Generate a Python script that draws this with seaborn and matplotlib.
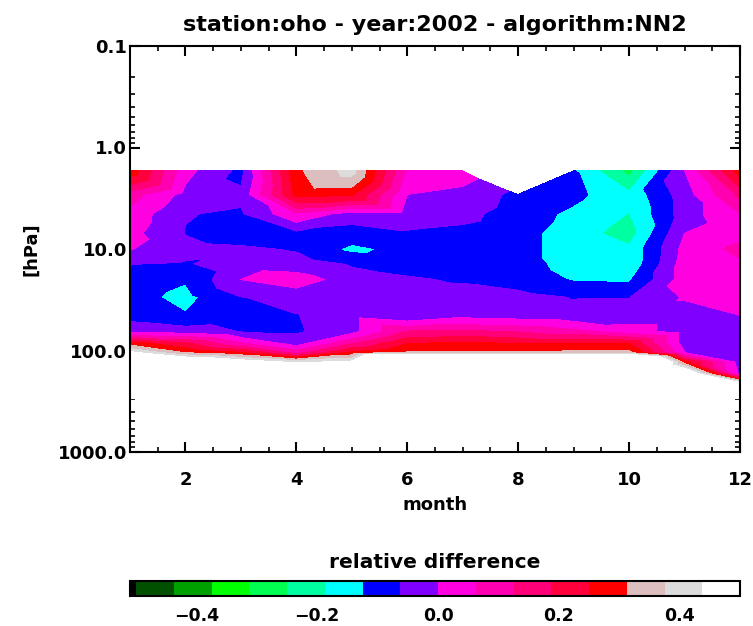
import numpy as np
import matplotlib
matplotlib.use("Agg")
import matplotlib.pyplot as plt
import matplotlib.tri as mtri
from matplotlib.colors import ListedColormap, BoundaryNorm
from matplotlib.cm import ScalarMappable
from matplotlib.ticker import FixedLocator, MultipleLocator, LogLocator, NullFormatter, NullLocator
import seaborn as sns

# ---------------- data ----------------
months = [1, 2, 3, 4, 5, 6, 7, 8, 9, 10, 11, 12]
pressure = [1.7, 2.9, 4.5, 7, 10, 14, 20, 30, 45, 65, 85, 105, 130, 170, 220, 300]  # hPa
nan = float("nan")

# relative difference per month, listed from top (1.7 hPa) to bottom (300 hPa)
jan = [0.29, 0.09, 0.04, 0.02, 0.003, -0.06, -0.09, -0.10, -0.09, -0.01, 0.28, 0.46, 1.0, 1.0, 1.0, 1.0]
feb = [0.02, -0.02, -0.06, -0.065, -0.04, -0.07, -0.12, -0.145, -0.12, -0.03, 0.20, 0.31, 0.6, 1.0, 1.0, 1.0]
mar = [-0.08, -0.05, -0.07, -0.10, -0.05, -0.02, 0.0, -0.065, -0.10, -0.065, 0.07, 0.26, 0.5, 1.0, 1.0, 1.0]
apr = [0.30, 0.27, 0.05, -0.08, -0.07, -0.03, 0.03, -0.04, -0.065, -0.07, -0.03, 0.10, 0.42, 1.0, 1.0, 1.0]
may = [0.40, 0.26, -0.03, -0.095, -0.14, -0.07, -0.03, -0.03, -0.02, -0.02, 0.12, 0.27, 0.46, 1.0, 1.0, 1.0]
jun = [0.05, 0.0, -0.03, -0.07, -0.107, -0.085, -0.055, -0.03, -0.06, 0.13, 0.25, 0.32, 1.0, 1.0, 1.0, 1.0]
jul = [0.03, -0.02, -0.045, -0.08, -0.10, -0.10, -0.07, -0.03, -0.02, 0.14, 0.26, 0.32, 1.0, 1.0, 1.0, 1.0]
aug = [nan, -0.08, -0.09, -0.10, -0.10, -0.10, -0.09, -0.04, -0.03, 0.12, 0.25, 0.32, 1.0, 1.0, 1.0, 1.0]
sep = [-0.12, -0.11, -0.14, -0.16, -0.16, -0.15, -0.13, -0.065, -0.04, 0.08, 0.25, 0.33, 1.0, 1.0, 1.0, 1.0]
octo = [-0.27, -0.17, -0.19, -0.215, -0.176, -0.175, -0.135, -0.065, -0.03, 0.03, 0.25, 0.33, 1.0, 1.0, 1.0, 1.0]
nov = [0.0, -0.03, -0.03, 0.0, 0.02, 0.03, 0.03, 0.005, -0.03, -0.03, -0.03, 0.0, 0.28, 0.6, 1.0, 1.0]
dec = [0.28, 0.14, 0.06, 0.04, 0.08, 0.05, 0.04, 0.02, 0.0, -0.03, -0.03, -0.03, -0.03, -0.01, 0.6, 1.0]

levels = [-0.5, -0.4375, -0.375, -0.3125, -0.25, -0.1875, -0.125, -0.0625, 0.0,
          0.0625, 0.125, 0.1875, 0.25, 0.3125, 0.375, 0.4375, 0.5]
level_colors = ["#005000", "#00a000", "#00ff00", "#00ff50", "#00ffa0", "#00ffff",
                "#0000ff", "#8000ff", "#ff00e0", "#ff00b0", "#ff0078", "#ff003c",
                "#ff0000", "#dcbebe", "#dcdcdc", "#ffffff"]

title = "station:oho - year:2002 - algorithm:NN2"
xticks = [2, 4, 6, 8, 10, 12]
yticks = [0.1, 1, 10, 100, 1000]
ytick_labels = ["0.1", "1.0", "10.0", "100.0", "1000.0"]
cbar_ticks = [-0.4, -0.2, 0.0, 0.2, 0.4]
cbar_labels = ["\u22120.4", "\u22120.2", "0.0", "0.2", "0.4"]

# ---------------- style ----------------
sns.set_style("ticks")
plt.rcParams["font.family"] = ["DejaVu Sans"]
plt.rcParams["font.weight"] = "bold"
plt.rcParams["axes.linewidth"] = 1.5
for key in ["text.color", "axes.labelcolor", "xtick.color", "ytick.color", "axes.edgecolor"]:
    plt.rcParams[key] = "black"

W, H = 753, 626
fig = plt.figure(figsize=(W / 100, H / 100), dpi=100)
ax = fig.add_axes([130 / W, 1 - 452 / H, 610 / W, 406 / H])

# ---------------- field ----------------
z = np.array([jan, feb, mar, apr, may, jun, jul, aug, sep, octo, nov, dec]).T
X, Y = np.meshgrid(months, pressure)
nr, nc = z.shape
tris = []
for i in range(nr - 1):
    for j in range(nc - 1):
        a = i * nc + j
        b = a + 1
        c = a + nc
        d = c + 1
        if j % 2 == 0:
            tris += [[a, b, d], [a, c, d]]
        else:
            tris += [[a, b, c], [b, c, d]]
tris = np.array(tris)
tri = mtri.Triangulation(X.ravel(), Y.ravel(), tris)
zf = z.ravel()
tri.set_mask(np.isnan(zf)[tris].any(axis=1))
zf = np.where(np.isnan(zf), 0.0, zf)
ax.tricontourf(tri, zf, levels=levels + [5.0], colors=level_colors + ["#ffffff"], antialiased=False)

ax.set_yscale("log")
ax.set_xlim(1, 12)
ax.set_ylim(1000, 0.1)
ax.xaxis.set_major_locator(FixedLocator(xticks))
ax.xaxis.set_minor_locator(MultipleLocator(0.5))
ax.yaxis.set_major_locator(FixedLocator(yticks))
ax.yaxis.set_minor_locator(LogLocator(base=10, subs=range(2, 10)))
ax.yaxis.set_minor_formatter(NullFormatter())
ax.set_yticklabels(ytick_labels)
ax.set_xticklabels([str(t) for t in xticks])
ax.tick_params(which="major", direction="in", length=7, width=1.5,
               top=True, right=True, labelsize=13, color="black", labelcolor="black")
ax.tick_params(which="minor", direction="in", length=3.6, width=1.2,
               top=True, right=True, color="black")
ax.tick_params(axis="y", which="major", pad=2)
ax.tick_params(axis="x", which="major", pad=14)
for s in ax.spines.values():
    s.set_color("black")
    s.set_linewidth(1.5)

ax.set_title(title, fontsize=16, fontweight="bold", pad=10.5, color="black")
ax.set_xlabel("month", fontsize=13, fontweight="bold", color="black")
ax.xaxis.set_label_coords(0.5, (452 - 496) / 406)
ax.set_ylabel("[hPa]", fontsize=13, fontweight="bold", color="black")
ax.yaxis.set_label_coords((40 - 130) / 610, 0.5)

# ---------------- colorbar ----------------
cax = fig.add_axes([130 / W, 1 - 596 / H, 610 / W, 15 / H])
cmap = ListedColormap(["#000000"] + level_colors)
norm = BoundaryNorm([-0.51] + levels, cmap.N)
cb = fig.colorbar(ScalarMappable(norm=norm, cmap=cmap), cax=cax,
                  orientation="horizontal", spacing="proportional")
cb.set_ticks(cbar_ticks)
cb.set_ticklabels(cbar_labels)
cax.xaxis.set_minor_locator(NullLocator())
cax.tick_params(which="both", length=0, labelsize=12.5, pad=8, labelcolor="black")
cb.outline.set_linewidth(1.5)
cb.outline.set_edgecolor("black")
fig.text(435 / W, 1 - 568 / H, "relative difference", ha="center", va="baseline",
         fontsize=14.5, fontweight="bold", color="black")

fig.savefig("out.png", dpi=100, facecolor="white")
